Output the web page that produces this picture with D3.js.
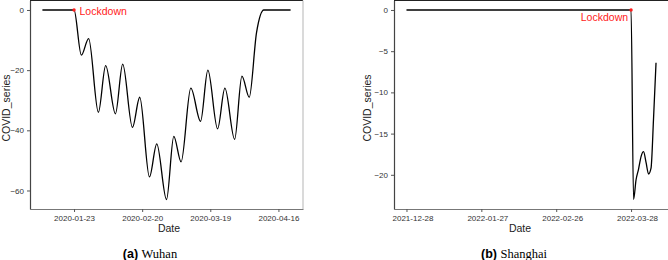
<!DOCTYPE html>
<html>
<head>
<meta charset="utf-8">
<script src="https://cdn.jsdelivr.net/npm/d3@7"></script>
<style>
  body { margin: 0; background: #fff; }
  text { font-family: "Liberation Sans", Arial, sans-serif; }
</style>
</head>
<body>
<svg id="chart" width="668" height="260"></svg>
<script>

// (a) Wuhan - values at the turning points
const wuhanDates = ["2020-01-10", "2020-01-23", "2020-01-26", "2020-01-29", "2020-02-02", "2020-02-05",
    "2020-02-09", "2020-02-12", "2020-02-16", "2020-02-19", "2020-02-23", "2020-02-26", "2020-03-01",
    "2020-03-04", "2020-03-07", "2020-03-11", "2020-03-15", "2020-03-18", "2020-03-22", "2020-03-25",
    "2020-03-29", "2020-04-01", "2020-04-04", "2020-04-07", "2020-04-10", "2020-04-21"]
const wuhanValues = [0, 0, -15, -9.5, -34, -18.5, -34.5, -18, -39, -29, -55.5, -44.5, -63,
    -42, -50.5, -26, -37, -20, -39.5, -26, -43, -22, -29, -7.5, 0, 0]
const wuhanLockdown = "2020-01-23"
const wuhanXTicks = ["2020-01-23", "2020-02-20", "2020-03-19", "2020-04-16"]
const wuhanYTicks = [-60, -40, -20, 0]

// (b) Shanghai
const shanghaiDates = ["2021-12-28", "2022-03-28", "2022-03-29", "2022-03-30", "2022-03-31", "2022-04-01",
    "2022-04-02", "2022-04-03", "2022-04-04", "2022-04-05", "2022-04-06", "2022-04-07"]
const shanghaiValues = [0, 0, -23, -20.6, -19.3, -17.8, -17.2, -18.5, -19.9, -19.2, -13.2, -6.4]
const shanghaiLockdown = "2022-03-28"
const shanghaiXTicks = ["2021-12-28", "2022-01-27", "2022-02-26", "2022-03-28"]
const shanghaiYTicks = [-20, -15, -10, -5, 0]

const parse = d3.timeParse("%Y-%m-%d")
const fmt = d3.timeFormat("%Y-%m-%d")
const svg = d3.select("#chart")

// ggplot style 5% expansion on both ends
function expand(ext) {
    let pad = (ext[1] - ext[0]) * 0.05
    return [ext[0] - pad, ext[1] + pad]
}

function drawPanel(p) {
    let data = p.dates.map((d, i) => ({ date: parse(d), value: p.values[i] }))
    let top = 0.5, bottom = 209

    let xExt = expand(d3.extent(data, d => +d.date))
    let x = d3.scaleTime()
        .domain([new Date(xExt[0]), new Date(xExt[1])])
        .range([p.left, p.right])
    let y = d3.scaleLinear()
        .domain(expand(d3.extent(data, d => d.value)))
        .range([bottom, top])

    let g = svg.append("g")

    // panel border
    g.append("line").attr("x1", p.left).attr("x2", p.right).attr("y1", top).attr("y2", top)
        .attr("stroke", "#222").attr("stroke-width", 1.2)
    g.append("line").attr("x1", p.right).attr("x2", p.right).attr("y1", top).attr("y2", bottom)
        .attr("stroke", "#b5b5b5").attr("stroke-width", 1)

    let xAxis = g.append("g")
        .attr("transform", `translate(0,${bottom})`)
        .call(d3.axisBottom(x)
            .tickValues(p.xTicks.map(parse))
            .tickFormat(fmt)
            .tickSize(3)
            .tickSizeOuter(0))
    xAxis.select(".domain").attr("stroke", "#777").attr("stroke-width", 1.2)
    xAxis.selectAll(".tick line").attr("stroke", "#555")
    xAxis.selectAll(".tick text")
        .attr("fill", "#333")
        .attr("font-size", 8)
        .attr("font-family", "Liberation Sans, Arial, sans-serif")
        .attr("dx", p.labelShift)
        .attr("y", 6.5)

    let yAxis = g.append("g")
        .attr("transform", `translate(${p.left},0)`)
        .call(d3.axisLeft(y)
            .tickValues(p.yTicks)
            .tickSize(3)
            .tickSizeOuter(0))
    yAxis.select(".domain").attr("stroke", "#444").attr("stroke-width", 1.2)
    yAxis.selectAll(".tick line").attr("stroke", "#555")
    yAxis.selectAll(".tick text")
        .attr("fill", "#333")
        .attr("font-size", 8)
        .attr("font-family", "Liberation Sans, Arial, sans-serif")
        .attr("x", -6)

    let line = d3.line()
        .x(d => x(d.date))
        .y(d => y(d.value))
        .curve(d3.curveMonotoneX)

    g.append("path")
        .datum(data)
        .attr("d", line)
        .attr("fill", "none")
        .attr("stroke", "#000")
        .attr("stroke-width", 1.3)
        .attr("stroke-linejoin", "round")

    // lockdown marker
    let lx = x(parse(p.lockdown)), ly = y(0)
    g.append("circle")
        .attr("cx", lx).attr("cy", ly).attr("r", 1.7)
        .attr("fill", "#ff1a1a")
    g.append("text")
        .attr("x", lx + p.labelDx)
        .attr("y", ly + p.labelDy)
        .attr("dy", "0.35em")
        .attr("text-anchor", p.labelAnchor)
        .attr("fill", "#ff2020")
        .attr("font-size", 10.5)
        .text("Lockdown")

    // axis titles
    g.append("text")
        .attr("x", p.dateX)
        .attr("y", 231.5)
        .attr("text-anchor", "middle")
        .attr("fill", "#222")
        .attr("font-size", 10.5)
        .text("Date")
    g.append("text")
        .attr("transform", `translate(${p.titleX},108) rotate(-90)`)
        .attr("text-anchor", "middle")
        .attr("fill", "#222")
        .attr("font-size", 10.5)
        .text("COVID_series")

    // caption below the panel
    let cap = g.append("text")
        .attr("x", p.captionX)
        .attr("y", 258)
        .attr("text-anchor", "middle")
        .attr("fill", "#000")
    cap.append("tspan")
        .attr("font-weight", "bold")
        .attr("font-size", 12.5)
        .text(p.letter + " ")
    cap.append("tspan")
        .attr("font-family", "Liberation Serif, Times New Roman, serif")
        .attr("font-size", 12.5)
        .text(p.name)
}

drawPanel({
    dates: wuhanDates, values: wuhanValues, lockdown: wuhanLockdown,
    xTicks: wuhanXTicks, yTicks: wuhanYTicks,
    left: 30, right: 303, labelShift: 0,
    labelDx: 5.5, labelDy: 1, labelAnchor: "start",
    dateX: 169, titleX: 9.5, captionX: 150,
    letter: "(a)", name: "Wuhan"
})

drawPanel({
    dates: shanghaiDates, values: shanghaiValues, lockdown: shanghaiLockdown,
    xTicks: shanghaiXTicks, yTicks: shanghaiYTicks,
    left: 394, right: 668.5, labelShift: 6,
    labelDx: -3, labelDy: 7.5, labelAnchor: "end",
    dateX: 520, titleX: 370.5, captionX: 514,
    letter: "(b)", name: "Shanghai"
})
</script>
</body>
</html>
